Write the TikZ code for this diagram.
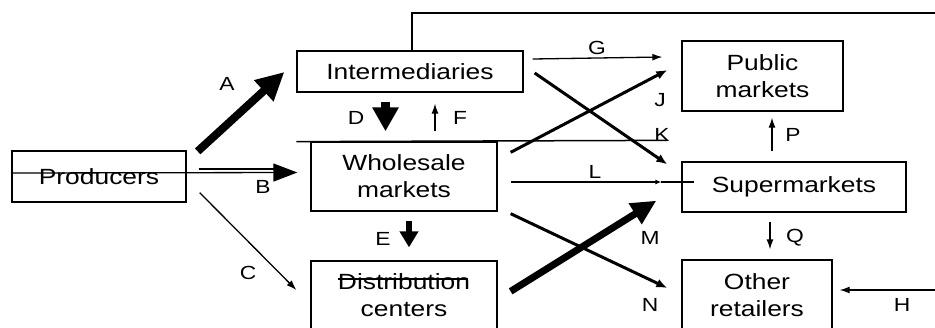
\documentclass[tikz,border=0pt]{standalone}
\usepackage{fontspec}
\setmainfont{Liberation Sans}[FakeStretch=1.2]
\usetikzlibrary{arrows.meta}
\begin{document}
\begin{tikzpicture}[x=1pt,y=-1pt,
  box/.style={draw, line width=1.3pt, inner sep=0pt, align=center,
    font=\fontsize{22}{27}\selectfont},
  lbl/.style={inner sep=0pt, font=\fontsize{19}{19}\selectfont},
  conn/.style={line width=1.3pt},
  thinarrow/.style={line width=1.3pt, -{Latex[length=10pt,width=7pt]}},
  crossarrow/.style={line width=3pt, -{Latex[length=11pt,width=9pt]}},
  fatarrow/.style={line width=8pt, -{Triangle[length=28pt,width=27pt]}}
]
\useasboundingbox (0,0) rectangle (935,327);

% boxes
\node[box, minimum width=174pt, minimum height=51pt] (prod) at (99,176.5) {Producers};
\node[box, minimum width=226pt, minimum height=41pt] (inter) at (410,71.5) {Intermediaries};
\node[box, minimum width=186pt, minimum height=69pt] (whole) at (404,176.5) {Wholesale\\markets};
\node[box, minimum width=186pt, minimum height=68pt] (dist) at (404,295) {Distribution\\centers};
\node[box, minimum width=161pt, minimum height=70pt] (pub) at (762.5,76) {Public\\markets};
\node[box, minimum width=224pt, minimum height=50pt] (super) at (794,187) {Supermarkets};
\node[box, minimum width=150pt, minimum height=70pt] (other) at (757,295) {Other\\retailers};

\coordinate (topend) at (935,13);
\coordinate (hstart) at (935,290);

% strike through "Distribution"
\draw[conn] ([shift={(-66,-16)}]dist.center) -- ([shift={(64,-16)}]dist.center);

% top connector
\draw[line width=1.5pt] ([xshift=2pt]inter.north) |- (topend);

% horizontal line above wholesale
\draw[line width=1.5pt] ([shift={(0,49)}]inter.south west) -- ([shift={(-14,-21)}]super.north west);

% A
\draw[fatarrow] ([shift={(11,1)}]prod.north east) -- ([shift={(-12,0.5)}]inter.west);
% B
\draw[conn, -{Triangle[length=24pt,width=18pt]}] ([shift={(0,-3.5)}]prod.west) -- ([shift={(-13,-4)}]whole.west);
\draw[conn] ([shift={(12,-7.5)}]prod.east) -- ([shift={(-36,-7.5)}]whole.west);
% C
\draw[thinarrow] ([shift={(13,-10)}]prod.south east) -- ([shift={(-14,-5)}]dist.west);
% D
\draw[line width=9pt, -{Triangle[length=24pt,width=25pt]}] ([shift={(-24.5,9)}]inter.south) -- ([shift={(-18.5,-10)}]whole.north);
% F
\draw[thinarrow] ([shift={(31,-10)}]whole.north) -- ([shift={(25,11)}]inter.south);
% E
\draw[line width=6pt, -{Triangle[length=16pt,width=18pt]}] ([shift={(5,9)}]whole.south) -- ([shift={(5,-13)}]dist.north);
% G
\draw[thinarrow] ([shift={(9,-12.5)}]inter.east) -- ([shift={(-19,-19)}]pub.west);
% J
\draw[crossarrow] ([shift={(13,11)}]whole.north east) -- ([shift={(-14,-6)}]pub.west);
% K (Intermediaries -> Supermarkets)
\draw[crossarrow] ([shift={(11,1.5)}]inter.east) -- ([shift={(-14,3)}]super.north west);
% L
\draw[conn, -{Latex[length=6pt,width=5pt]}] ([shift={(13,5.5)}]whole.east) -- ([shift={(-20,-5)}]super.west);
\draw[conn] ([shift={(-20,-5)}]super.west) -- ([shift={(13,-5)}]super.west);
% M
\draw[line width=7pt, -{Triangle[length=25pt,width=23pt]}] ([shift={(13,31)}]dist.north east) -- ([shift={(-25,-12)}]super.south west);
% N
\draw[crossarrow] ([shift={(13,2)}]whole.south east) -- ([shift={(-14,-7)}]other.west);
% P
\draw[thinarrow] ([shift={(-22,-10)}]super.north) -- ([shift={(9.5,6)}]pub.south);
% Q
\draw[thinarrow] ([shift={(-24,9)}]super.south) -- ([shift={(13,-10)}]other.north);
% H
\draw[thinarrow] (hstart) -- ([shift={(7,-5)}]other.east);

% labels
\node[lbl] (lA) at (227,84) {A};
\node[lbl] (lB) at (263,187) {B};
\node[lbl] (lC) at (248,273) {C};
\node[lbl] (lD) at (356,118) {D};
\node[lbl] (lE) at (383,239) {E};
\node[lbl] (lF) at (460,118) {F};
\node[lbl] (lG) at (597,48) {G};
\node[lbl] (lJ) at (660,100) {J};
\node[lbl] (lK) at (662,135) {K};
\node[lbl] (lL) at (595,172) {L};
\node[lbl] (lM) at (650,238) {M};
\node[lbl] (lN) at (650,305) {N};
\node[lbl] (lP) at (793,135) {P};
\node[lbl] (lQ) at (795,238) {Q};
\node[lbl] (lH) at (902,305) {H};
\end{tikzpicture}
\end{document}
